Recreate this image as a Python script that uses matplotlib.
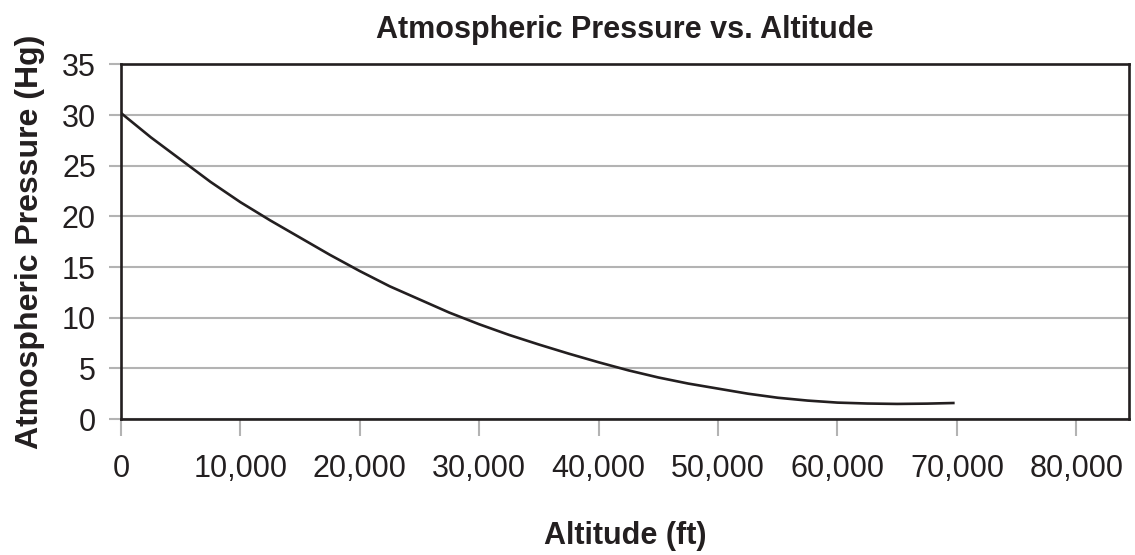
import matplotlib.pyplot as plt
from matplotlib.ticker import FuncFormatter

plt.rcParams['font.family'] = ['Liberation Sans', 'DejaVu Sans']

# altitude (ft) and pressure (Hg)
altitude = [0, 2500, 5000, 7500, 10000, 12500, 15000, 17500, 20000, 22500,
            25000, 27500, 30000, 32500, 35000, 37500, 40000, 42500, 45000,
            47500, 50000, 52500, 55000, 57500, 60000, 62500, 65000, 67500, 69700]
pressure = [30.2, 27.8, 25.6, 23.4, 21.4, 19.6, 17.9, 16.2, 14.6, 13.1,
            11.8, 10.5, 9.35, 8.3, 7.35, 6.45, 5.6, 4.8, 4.1,
            3.5, 3.0, 2.5, 2.1, 1.82, 1.62, 1.53, 1.49, 1.52, 1.58]

x_ticks = [0, 10000, 20000, 30000, 40000, 50000, 60000, 70000, 80000]
y_ticks = [0, 5, 10, 15, 20, 25, 30, 35]

fig = plt.figure(figsize=(11.35, 5.55), dpi=100)
ax = fig.add_axes([0.1066, 0.245, 0.888, 0.639])

ax.plot(altitude, pressure, color='#231f20', lw=1.9, solid_joinstyle='round')

ax.set_xlim(0, 84400)
ax.set_ylim(0, 35)
ax.set_xticks(x_ticks)
ax.set_yticks(y_ticks)
ax.xaxis.set_major_formatter(FuncFormatter(lambda v, p: '{:,.0f}'.format(v)))

ax.grid(axis='y', color='#b3b3b3', lw=1.5)
ax.set_axisbelow(True)
for s in ax.spines.values():
    s.set_color('#231f20')
    s.set_linewidth(1.9)

ax.tick_params(axis='x', length=12, width=1.5, color='#b3b3b3', pad=13,
               labelsize=22, labelcolor='#231f20')
ax.tick_params(axis='y', length=9, width=1.5, color='#b3b3b3', pad=9,
               labelsize=22, labelcolor='#231f20')

ax.set_title('Atmospheric Pressure vs. Altitude', fontsize=22, fontweight='bold',
             color='#231f20', pad=19)
ax.set_xlabel('Altitude (ft)', fontsize=22, fontweight='bold', color='#231f20',
              labelpad=27)
ax.set_ylabel('Atmospheric Pressure (Hg)', fontsize=23, fontweight='bold',
              color='#231f20', labelpad=12)

fig.savefig('out.png', dpi=100)
